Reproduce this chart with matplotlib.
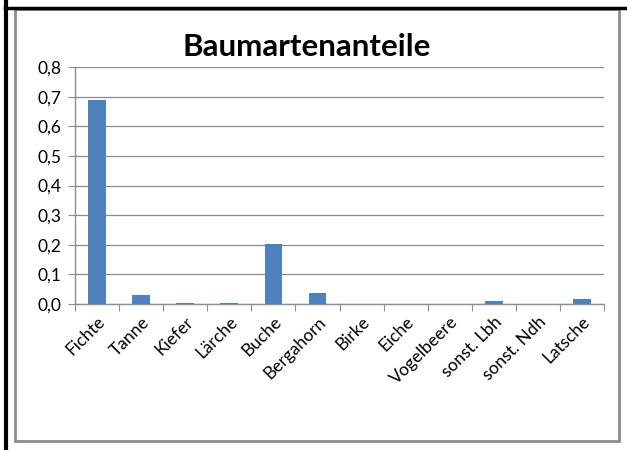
import matplotlib
matplotlib.use("Agg")
import matplotlib.pyplot as plt
from matplotlib.lines import Line2D
from matplotlib.patches import Rectangle

categories = ["Fichte", "Tanne", "Kiefer", "Lärche", "Buche", "Bergahorn", "Birke",
              "Eiche", "Vogelbeere", "sonst. Lbh", "sonst. Ndh", "Latsche"]
values = [0.69, 0.03, 0.004, 0.004, 0.203, 0.036, 0.0, 0.0, 0.0, 0.01, 0.0, 0.016]
yticks = [0.0, 0.1, 0.2, 0.3, 0.4, 0.5, 0.6, 0.7, 0.8]
ytick_labels = ["0,0", "0,1", "0,2", "0,3", "0,4", "0,5", "0,6", "0,7", "0,8"]
title = "Baumartenanteile"

plt.rcParams['font.family'] = ['Lato', 'DejaVu Sans']

W, H = 627, 450
fig = plt.figure(figsize=(W / 100, H / 100), dpi=100)

# outer frame lines
fig.add_artist(Line2D([6 / W, 6 / W], [0, 1], color='black', lw=3, transform=fig.transFigure))
fig.add_artist(Line2D([5 / W, 1], [1 - 7.5 / H, 1 - 7.5 / H], color='black', lw=2.5, transform=fig.transFigure))
# chart border
fig.add_artist(Rectangle((14.5 / W, 1 - 441 / H), (619 - 14.5) / W, (441 - 8.5) / H,
                         fill=False, edgecolor='#8c8c8c', lw=2, transform=fig.transFigure))

ax = fig.add_axes([75 / W, 1 - 304 / H, (604 - 75) / W, (304 - 67) / H])
x = list(range(len(categories)))
ax.bar(x, values, width=0.4, color='#4F81BD', zorder=3)
ax.set_xlim(-0.5, len(categories) - 0.5)
ax.set_ylim(0, 0.8)
ax.set_yticks(yticks)
ax.set_yticklabels(ytick_labels, fontsize=12.5)
ax.grid(axis='y', color='#8c8c8c', lw=0.9, zorder=0)
for s in ['top', 'right']:
    ax.spines[s].set_visible(False)
for s in ['left', 'bottom']:
    ax.spines[s].set_color('#8c8c8c')
    ax.spines[s].set_linewidth(1)
ax.set_xticks([i - 0.5 for i in range(len(categories) + 1)], minor=False)
ax.set_xticklabels([])
ax.set_xticks(x, minor=True)
ax.set_xticklabels(categories, minor=True, rotation=45, ha='right', rotation_mode='anchor', fontsize=12.5)
ax.tick_params(axis='x', which='major', length=5, color='#8c8c8c', direction='out')
ax.tick_params(axis='x', which='minor', length=0, pad=7)
ax.tick_params(axis='y', length=5, color='#8c8c8c', pad=5)

fig.text(307 / W, 1 - 47 / H, title, ha='center', va='center', fontsize=22.5, fontweight='bold')

fig.savefig('out.png', dpi=100)
